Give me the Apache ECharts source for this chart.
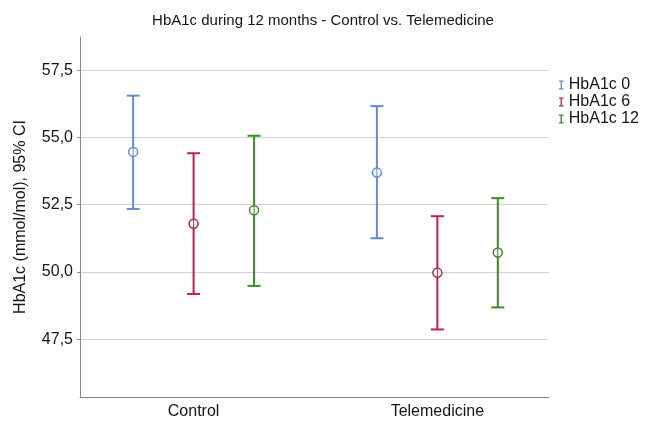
<!DOCTYPE html>
<html><head><meta charset="utf-8">
<script src="https://cdn.jsdelivr.net/npm/echarts@6/dist/echarts.min.js"></script>
<style>html,body{margin:0;padding:0;background:#fff}#c{width:646px;height:421px}</style>
</head><body><div id="c"></div>
<script>
const categories = ['Control', 'Telemedicine'];
const seriesNames = ['HbA1c 0', 'HbA1c 6', 'HbA1c 12'];
const hba1c0Mean = [54.46, 53.69];
const hba1c0Low = [52.34, 51.25];
const hba1c0High = [56.55, 56.16];
const hba1c6Mean = [51.79, 49.97];
const hba1c6Low = [49.18, 47.86];
const hba1c6High = [54.41, 52.07];
const hba1c12Mean = [52.29, 50.72];
const hba1c12Low = [49.48, 48.68];
const hba1c12High = [55.06, 52.74];
const yTicks = [47.5, 50.0, 52.5, 55.0, 57.5];

const colors = ['#5f8fc9', '#c41e4a', '#3c8a2e'];
const clusterOffsets = [-0.248, 0, 0.248];
const FONT = '"Liberation Sans", Arial, sans-serif';

function buildData(low, mean, high) {
  return categories.map((c, i) => [i, low[i], mean[i], high[i]]);
}
const seriesData = [
  buildData(hba1c0Low, hba1c0Mean, hba1c0High),
  buildData(hba1c6Low, hba1c6Mean, hba1c6High),
  buildData(hba1c12Low, hba1c12Mean, hba1c12High)
];

function makeRender(si) {
  return function (params, api) {
    const x = api.value(0) + clusterOffsets[si];
    const pLow = api.coord([x, api.value(1)]);
    const pMid = api.coord([x, api.value(2)]);
    const pHigh = api.coord([x, api.value(3)]);
    const hw = 6.5;
    const color = colors[si];
    const ls = { stroke: color, lineWidth: 2 };
    return {
      type: 'group',
      children: [
        { type: 'line', shape: { x1: pLow[0], y1: pLow[1], x2: pHigh[0], y2: pHigh[1] }, style: ls },
        { type: 'line', shape: { x1: pLow[0] - hw, y1: pLow[1], x2: pLow[0] + hw, y2: pLow[1] }, style: ls },
        { type: 'line', shape: { x1: pHigh[0] - hw, y1: pHigh[1], x2: pHigh[0] + hw, y2: pHigh[1] }, style: ls },
        { type: 'circle', shape: { cx: pMid[0], cy: pMid[1], r: 4.5 }, style: { stroke: color, fill: '#fff', lineWidth: 1.5 } },
        { type: 'line', shape: { x1: pMid[0], y1: pMid[1] - 4.5, x2: pMid[0], y2: pMid[1] + 4.5 }, style: { stroke: color, lineWidth: 1 } }
      ]
    };
  };
}

const chart = echarts.init(document.getElementById('c'), null, { renderer: 'canvas' });
chart.setOption({
  animation: false,
  backgroundColor: '#fff',
  title: {
    text: 'HbA1c during 12 months - Control vs. Telemedicine',
    left: 'center', top: 13, padding: 0,
    textStyle: { fontFamily: FONT, fontSize: 15, fontWeight: 'normal', color: '#151515', lineHeight: 16 }
  },
  legend: {
    orient: 'vertical', left: 559, top: 77, padding: 0,
    itemWidth: 5, itemHeight: 9, itemGap: 1,
    icon: 'path://M0,0H10V3H6.5V17H10V20H0V17H3.5V3H0Z',
    data: seriesNames,
    textStyle: { fontFamily: FONT, fontSize: 16, color: '#151515', lineHeight: 16 }
  },
  grid: { left: 80, right: 97, top: 37, bottom: 24, containLabel: false },
  xAxis: {
    type: 'value', min: -0.466, max: 1.458,
    axisLine: { onZero: false, lineStyle: { color: '#8a8a8a', width: 1 } },
    axisTick: { show: false },
    splitLine: { show: false },
    axisLabel: {
      customValues: [0, 1], margin: 7,
      formatter: v => categories[Math.round(v)],
      fontFamily: FONT, fontSize: 16, color: '#151515'
    }
  },
  yAxis: {
    type: 'value', min: 45.35, max: 58.73,
    name: 'HbA1c (mmol/mol), 95% CI', nameLocation: 'middle', nameRotate: 90, nameGap: 51,
    nameTextStyle: { fontFamily: FONT, fontSize: 16, color: '#151515' },
    axisLine: { show: true, onZero: false, lineStyle: { color: '#8a8a8a', width: 1 } },
    axisTick: { show: true, length: 3, customValues: yTicks, lineStyle: { color: '#8a8a8a' } },
    splitLine: { show: true, lineStyle: { color: '#d2d2d2', width: 1 } },
    axisLabel: {
      customValues: yTicks, margin: 7,
      formatter: v => v.toFixed(1).replace('.', ','),
      fontFamily: FONT, fontSize: 16, color: '#151515'
    }
  },
  series: seriesNames.map((n, si) => ({
    name: n, type: 'custom', color: colors[si],
    itemStyle: { color: colors[si] },
    renderItem: makeRender(si),
    encode: { x: 0, y: [1, 2, 3] },
    data: seriesData[si]
  }))
});
</script>
</body></html>
